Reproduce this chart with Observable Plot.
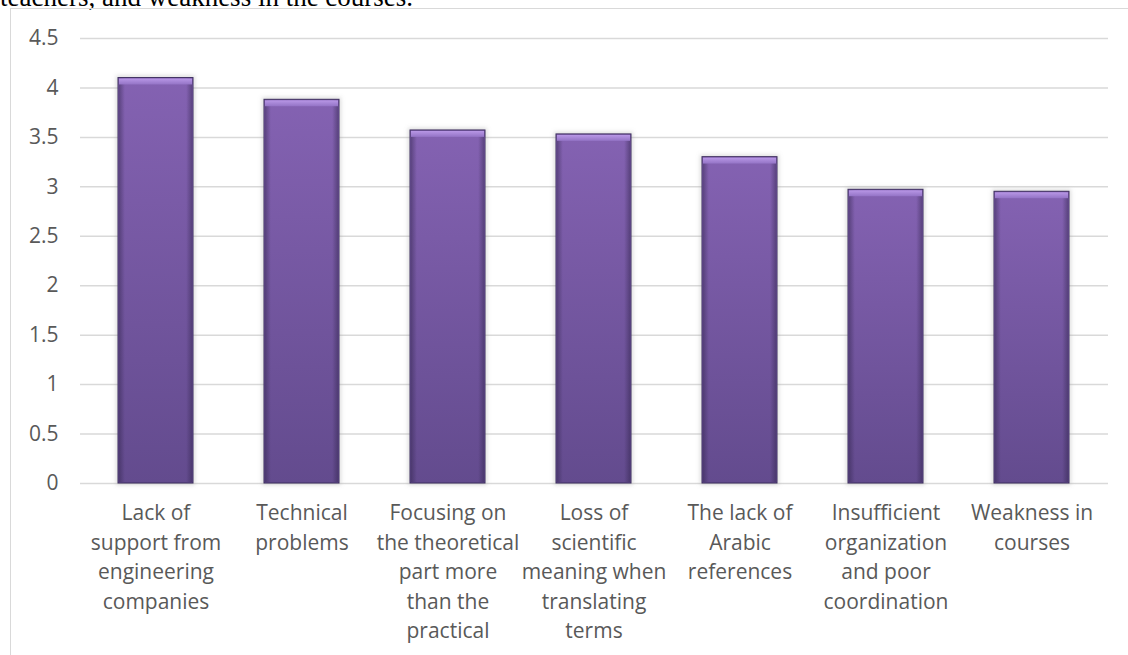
<!DOCTYPE html>
<html>
<head>
<meta charset="utf-8">
<script src="https://cdn.jsdelivr.net/npm/d3@7"></script>
<script src="https://cdn.jsdelivr.net/npm/@observablehq/plot@0.6"></script>
<style>
  html, body { margin: 0; padding: 0; background: #fff; width: 1128px; height: 655px; overflow: hidden; }
  #caption { position: absolute; left: 0; top: -16px; font-family: "Liberation Serif", "Times New Roman", serif; font-size: 27px; line-height: 27px; color: #000; white-space: nowrap; }
  #frame { position: absolute; left: 10px; top: 8px; width: 1130px; height: 660px; border-left: 1.5px solid #d9d9d9; border-top: 1.5px solid #d9d9d9; }
  #chart { position: absolute; left: 10px; top: 8px; }
</style>
</head>
<body>
<div id="caption">teachers, and weakness in the courses.</div>
<div id="frame"></div>
<div id="chart"></div>
<script>
const categories = [
  "Lack of\nsupport from\nengineering\ncompanies",
  "Technical\nproblems",
  "Focusing on\nthe theoretical\npart more\nthan the\npractical",
  "Loss of\nscientific\nmeaning when\ntranslating\nterms",
  "The lack of\nArabic\nreferences",
  "Insufficient\norganization\nand poor\ncoordination",
  "Weakness in\ncourses"
];
const values = [4.1, 3.88, 3.57, 3.53, 3.3, 2.97, 2.95];
const yTicks = [0, 0.5, 1, 1.5, 2, 2.5, 3, 3.5, 4, 4.5];

const data = categories.map((c, i) => ({category: c, value: values[i]}));

const bevel = 0.08;

const plot = Plot.plot({
  width: 1118,
  height: 647,
  marginLeft: 70,
  marginRight: 20,
  marginTop: 30,
  marginBottom: 172,
  style: { fontFamily: "'Open Sans', sans-serif", fontSize: "21px", color: "#595959", background: "transparent" },
  x: { domain: categories, paddingInner: 0.485, paddingOuter: 0.2425, label: null },
  y: { domain: [0, 4.5], ticks: yTicks, label: null },
  marks: [
    Plot.ruleY(yTicks, { stroke: "#d9d9d9", strokeWidth: 1.5 }),
    Plot.barY(data, { x: "category", y: "value", fill: "#9a9a9a", fillOpacity: 0.35, inset: -2, className: "shadow" }),
    Plot.barY(data, { x: "category", y: "value", fill: "url(#barGrad)", stroke: "#3d2e5e", strokeWidth: 1 }),
    Plot.barY(data, { x: "category", y: "value", fill: "url(#edgeGrad)", inset: 1 }),
    Plot.barY(data, { x: "category", y1: d => d.value - bevel, y2: "value", fill: "url(#bevelGrad)", inset: 1 }),
    Plot.axisY({ ticks: yTicks, tickSize: 0, tickPadding: 22, tickFormat: d => String(d), fontSize: 21, fill: "#595959" }),
    Plot.axisX({ tickSize: 0, tickPadding: 16, fontSize: 21, lineHeight: 1.4, fill: "#595959", lineAnchor: "top" })
  ]
});

document.getElementById("chart").appendChild(plot);

const svg = d3.select(plot);
const defs = svg.insert("defs", ":first-child");
const g1 = defs.append("linearGradient").attr("id", "barGrad").attr("x1", 0).attr("y1", 0).attr("x2", 0).attr("y2", 1);
g1.append("stop").attr("offset", "0%").attr("stop-color", "#8462b2");
g1.append("stop").attr("offset", "100%").attr("stop-color", "#634b8e");
const g2 = defs.append("linearGradient").attr("id", "edgeGrad").attr("x1", 0).attr("y1", 0).attr("x2", 1).attr("y2", 0);
g2.append("stop").attr("offset", "0%").attr("stop-color", "#2e2248").attr("stop-opacity", 0.45);
g2.append("stop").attr("offset", "8%").attr("stop-color", "#2e2248").attr("stop-opacity", 0);
g2.append("stop").attr("offset", "92%").attr("stop-color", "#2e2248").attr("stop-opacity", 0);
g2.append("stop").attr("offset", "100%").attr("stop-color", "#2e2248").attr("stop-opacity", 0.45);
const g3 = defs.append("linearGradient").attr("id", "bevelGrad").attr("x1", 0).attr("y1", 0).attr("x2", 0).attr("y2", 1);
g3.append("stop").attr("offset", "0%").attr("stop-color", "#b897e6");
g3.append("stop").attr("offset", "100%").attr("stop-color", "#9474c6");
const f = defs.append("filter").attr("id", "blur").attr("x", "-20%").attr("y", "-20%").attr("width", "140%").attr("height", "140%");
f.append("feGaussianBlur").attr("stdDeviation", 2);
svg.selectAll("g.shadow").attr("filter", "url(#blur)");
</script>
</body>
</html>
